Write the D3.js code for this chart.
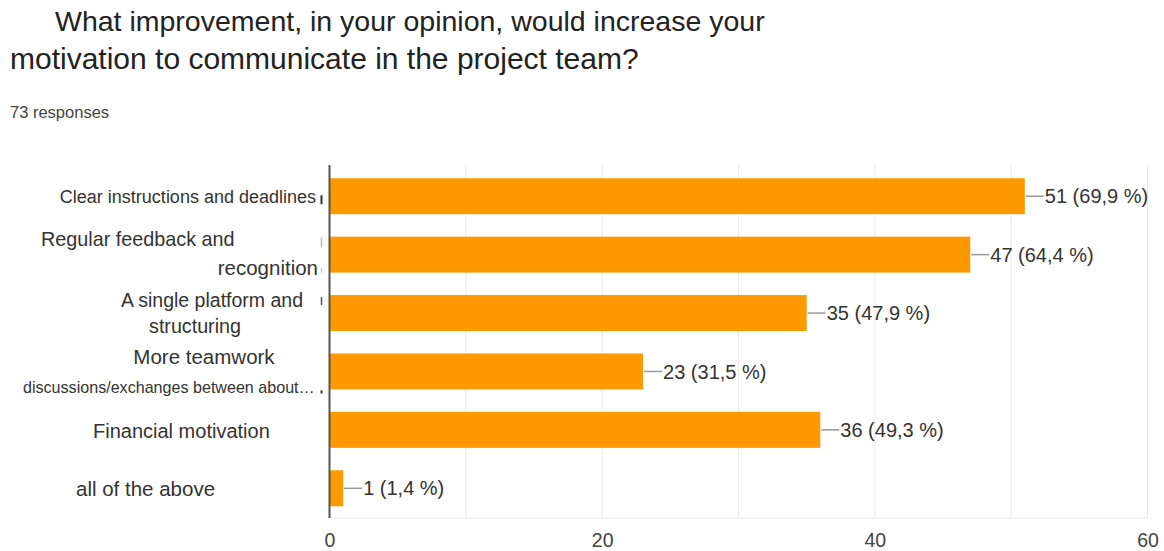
<!DOCTYPE html>
<html>
<head>
<meta charset="utf-8">
<script src="https://cdn.jsdelivr.net/npm/d3@7"></script>
<style>
  body { margin: 0; background: #fff; }
  svg { display: block; font-family: "Liberation Sans", Arial, Helvetica, sans-serif; }
</style>
</head>
<body>
<svg id="chart" width="1164" height="551"></svg>
<script>
// data
const titleLines = [
  "What improvement, in your opinion, would increase your",
  "motivation to communicate in the project team?"
];
const responsesText = "73 responses";
const categories = [
  "Clear instructions and deadlines",
  "Regular feedback and recognition",
  "A single platform and structuring",
  "More teamwork discussions/exchanges between about…",
  "Financial motivation",
  "all of the above"
];
const labelLines = [
  ["Clear instructions and deadlines"],
  ["Regular feedback and", "recognition"],
  ["A single platform and", "structuring"],
  ["More teamwork", "discussions/exchanges between about…"],
  ["Financial motivation"],
  ["all of the above"]
];
const counts = [51, 47, 35, 23, 36, 1];
const percents = [69.9, 64.4, 47.9, 31.5, 49.3, 1.4];
const xTicks = [0, 20, 40, 60];

const svg = d3.select("#chart");

// title
svg.append("text")
  .attr("x", 55).attr("y", 31)
  .attr("fill", "#222").style("font-size", "28.5px")
  .text(titleLines[0]);
svg.append("text")
  .attr("x", 10).attr("y", 69)
  .attr("fill", "#222").style("font-size", "30px")
  .text(titleLines[1]);
svg.append("text")
  .attr("x", 10).attr("y", 118)
  .attr("fill", "#444").style("font-size", "16.5px")
  .text(responsesText);

const x = d3.scaleLinear().domain([0, 60]).range([329.5, 1147.5]);
const y = d3.scaleBand().domain(categories).range([167, 517.5])
  .paddingInner(0.384).paddingOuter(0.192);

const plotTop = 165, plotBottom = 518;

// grid every 10
svg.append("g")
  .selectAll("line")
  .data(d3.range(10, 61, 10))
  .join("line")
  .attr("x1", d => x(d)).attr("x2", d => x(d))
  .attr("y1", plotTop).attr("y2", plotBottom)
  .attr("stroke", "#e9e9e9").attr("stroke-width", 1);
svg.append("line")
  .attr("x1", x(0)).attr("x2", x(60))
  .attr("y1", plotBottom).attr("y2", plotBottom)
  .attr("stroke", "#e9e9e9");

// bars
svg.append("g")
  .selectAll("rect")
  .data(counts)
  .join("rect")
  .attr("x", x(0))
  .attr("y", (d, i) => y(categories[i]))
  .attr("width", d => x(d) - x(0))
  .attr("height", y.bandwidth())
  .attr("fill", "#ff9900");

// y axis line
svg.append("line")
  .attr("x1", x(0)).attr("x2", x(0))
  .attr("y1", plotTop).attr("y2", plotBottom)
  .attr("stroke", "#555").attr("stroke-width", 2);

// value labels with leader lines
const val = svg.append("g")
  .selectAll("g")
  .data(counts)
  .join("g")
  .attr("transform", (d, i) => `translate(${x(d)},${y(categories[i]) + y.bandwidth() / 2})`);
val.append("line")
  .attr("x1", 1).attr("x2", 19)
  .attr("stroke", "#999").attr("stroke-width", 1.5);
val.append("text")
  .attr("x", 20).attr("dy", "0.36em")
  .attr("fill", "#333").style("font-size", "20px")
  .text((d, i) => `${d} (${percents[i].toFixed(1).replace(".", ",")} %)`);

// category labels (the wrapped lines sit oddly in the original)
const labelLayout = [
  [{ x: 316, dy: 7, anchor: "end", size: 18 }],
  [{ x: 41, dy: -9, anchor: "start", size: 19.8 }, { x: 318, dy: 20, anchor: "end", size: 20.5 }],
  [{ x: 303, dy: -6, anchor: "end", size: 19.5 }, { x: 195, dy: 20, anchor: "middle", size: 19.7 }],
  [{ x: 204, dy: -7, anchor: "middle", size: 20.5 }, { x: 23, dy: 22, anchor: "start", size: 16.1 }],
  [{ x: 93, dy: 8, anchor: "start", size: 20 }],
  [{ x: 76, dy: 8, anchor: "start", size: 20.5 }]
];
labelLines.forEach((lines, i) => {
  const cy = y(categories[i]) + y.bandwidth() / 2;
  lines.forEach((t, j) => {
    const p = labelLayout[i][j];
    svg.append("text")
      .attr("x", p.x).attr("y", cy + p.dy)
      .attr("text-anchor", p.anchor)
      .attr("fill", "#333").style("font-size", p.size + "px")
      .text(t);
  });
});

// small stray marks left of the axis
const marks = [
  { row: 0, y1: -1, y2: 8, c: "#333", w: 2 },
  { row: 1, y1: -17, y2: -7, c: "#bbb", w: 1.5 },
  { row: 1, y1: 13, y2: 18, c: "#ccc", w: 1.5 },
  { row: 2, y1: -16, y2: -8, c: "#555", w: 1.5 },
  { row: 3, y1: 19, y2: 22, c: "#333", w: 2 }
];
svg.append("g")
  .selectAll("line")
  .data(marks)
  .join("line")
  .attr("x1", 321.5).attr("x2", 321.5)
  .attr("y1", d => y(categories[d.row]) + y.bandwidth() / 2 + d.y1)
  .attr("y2", d => y(categories[d.row]) + y.bandwidth() / 2 + d.y2)
  .attr("stroke", d => d.c).attr("stroke-width", d => d.w);

// x axis tick labels
const xAxis = svg.append("g")
  .attr("transform", `translate(0,${plotBottom})`)
  .call(d3.axisBottom(x).tickValues(xTicks).tickSize(0).tickPadding(15));
xAxis.select(".domain").remove();
xAxis.selectAll("text")
  .attr("fill", "#444")
  .style("font-size", "19.5px")
  .style("font-family", '"Liberation Sans", Arial, sans-serif');
</script>
</body>
</html>
